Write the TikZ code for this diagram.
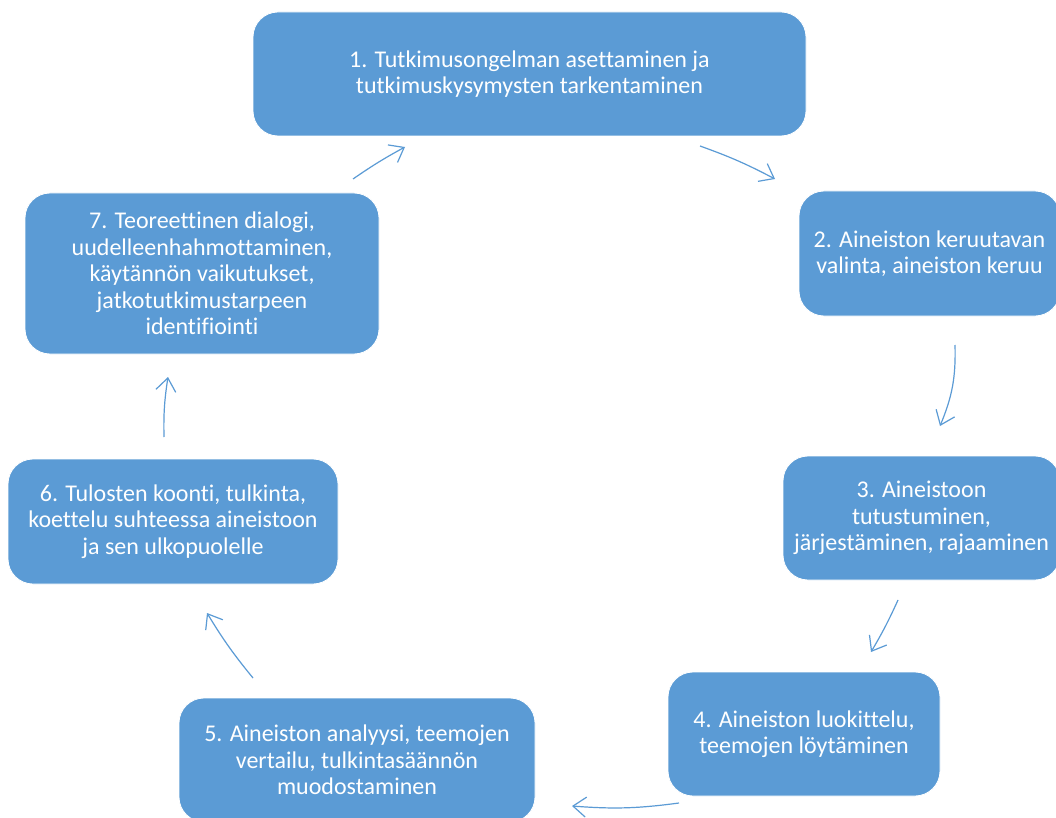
\documentclass[tikz,border=0pt]{standalone}
\usepackage{fontspec}
\setmainfont{Carlito}[Ligatures=NoCommon]
\usetikzlibrary{arrows.meta}
\definecolor{boxblue}{HTML}{5B9BD5}
\tikzset{
  stepbox/.style={fill=boxblue, draw=white, line width=0.8pt, rounded corners=25pt,
    text=white, align=center, inner sep=0pt, outer sep=0pt,
    font=\fontsize{24}{26.5}\selectfont},
  cyclearrow/.style={draw=boxblue, line width=1.2pt,
    -{Straight Barb[length=13pt,width=20pt,line width=1.2pt]}}
}
\begin{document}
\begin{tikzpicture}[x=1pt,y=-1pt]
\useasboundingbox (0,0) rectangle (1056,818);
\fill[white] (0,0) rectangle (1056,818);
\clip (0,0) rectangle (1056,818);

\node[stepbox, minimum width=553pt, minimum height=124pt] (n1) at (529.5,74)
  {1. Tutkimusongelman asettaminen ja\\tutkimuskysymysten tarkentaminen};
\node[stepbox, minimum width=261pt, minimum height=125pt] (n2) at (929.5,253.5)
  {2. Aineiston keruutavan\\valinta, aineiston keruu};
\node[stepbox, minimum width=277pt, minimum height=124pt] (n3) at (921.5,518)
  {3. Aineistoon\\tutustuminen,\\järjestäminen, rajaaminen};
\node[stepbox, minimum width=272pt, minimum height=124pt] (n4) at (804,734)
  {4. Aineiston luokittelu,\\teemojen löytäminen};
\node[stepbox, minimum width=356pt, minimum height=124pt] (n5) at (357,760)
  {5. Aineiston analyysi, teemojen\\vertailu, tulkintasäännön\\muodostaminen};
\node[stepbox, minimum width=330pt, minimum height=125pt] (n6) at (173,521.5)
  {6. Tulosten koonti, tulkinta,\\koettelu suhteessa aineistoon\\ja sen ulkopuolelle};
\node[stepbox, minimum width=354pt, minimum height=161pt] (n7) at (202,273.5)
  {7. Teoreettinen dialogi,\\uudelleenhahmottaminen,\\käytännön vaikutukset,\\jatkotutkimustarpeen\\identifiointi};

\coordinate (a12s) at (700,146);
\coordinate (a12e) at (775,179);
\coordinate (a23s) at (955,345);
\coordinate (a23e) at (940,426);
\coordinate (a34s) at (898,600);
\coordinate (a34e) at (871,652);
\coordinate (a45s) at (679,803);
\coordinate (a45e) at (572,806);
\coordinate (a56s) at (253,678);
\coordinate (a56e) at (207,613);
\coordinate (a67s) at (164,437);
\coordinate (a67e) at (168,377);
\coordinate (a71s) at (353,179);
\coordinate (a71e) at (405,147);

\draw[cyclearrow] (a12s) to[bend left=4] (a12e);
\draw[cyclearrow] (a23s) to[bend left=12] (a23e);
\draw[cyclearrow] (a34s) to[bend left=3] (a34e);
\draw[cyclearrow] (a45s) to[bend left=6] (a45e);
\draw[cyclearrow] (a56s) to[bend left=4] (a56e);
\draw[cyclearrow] (a67s) to[bend left=5] (a67e);
\draw[cyclearrow] (a71s) to[bend left=3] (a71e);
\end{tikzpicture}
\end{document}
